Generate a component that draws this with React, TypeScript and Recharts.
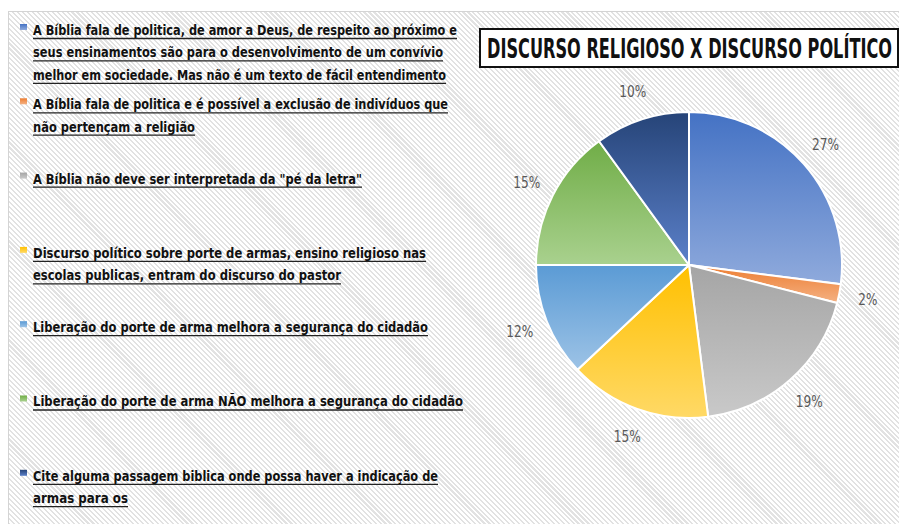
import { PieChart, Pie, Cell, Legend } from 'recharts'

// Survey answers — share of respondents per answer (%)
const ANSWERS = [
  'A Bíblia fala de politica, de amor a Deus, de respeito ao próximo e\nseus ensinamentos são para o desenvolvimento de um convívio\nmelhor em sociedade. Mas não é um texto de fácil entendimento',
  'A Bíblia fala de politica e é possível a exclusão de indivíduos que\nnão pertençam a religião',
  'A Bíblia não deve ser interpretada da "pé da letra"',
  'Discurso político sobre porte de armas, ensino religioso nas\nescolas publicas, entram do discurso do pastor',
  'Liberação do porte de arma melhora a segurança do cidadão',
  'Liberação do porte de arma  NÃO melhora a segurança do cidadão',
  'Cite alguma passagem biblica onde possa haver a indicação de\narmas para os',
]
const SHARES = [27, 2, 19, 15, 12, 15, 10]

const TITLE = 'DISCURSO RELIGIOSO X DISCURSO POLÍTICO'

// top → bottom gradient stops per slice (Office palette)
const GRADIENTS = [
  ['#4472C4', '#8FAADC'],
  ['#ED7D31', '#F4B183'],
  ['#A5A5A5', '#C9C9C9'],
  ['#FFC000', '#FFD966'],
  ['#5B9BD5', '#9DC3E6'],
  ['#70AD47', '#A9D18E'],
  ['#264478', '#5B80C9'],
]

// rendered width of each legend line (px) — the original uses a very narrow face
const LINE_WIDTHS = [
  [424, 410, 413],
  [415, 162],
  [329],
  [393, 308],
  [395],
  [430],
  [405, 95],
]

const data = ANSWERS.map((name, i) => ({ name, value: SHARES[i] }))

const NARROW = '"DejaVu Sans Condensed", "Liberation Sans Narrow", sans-serif'
const RAD = Math.PI / 180
const SQUEEZE = 0.82        // horizontal squeeze for legend text
const TITLE_SQUEEZE = 0.64  // and for the title

function renderLabel(p: any) {
  const r = p.outerRadius + 29
  const x = p.cx + r * Math.cos(-p.midAngle * RAD)
  const y = p.cy + r * Math.sin(-p.midAngle * RAD)
  return (
    <text x={x} y={y} textAnchor="middle" dominantBaseline="central"
      fontFamily={NARROW} fontSize={16} fill="#595959"
      textLength={String(p.value).length * 8 + 11} lengthAdjust="spacingAndGlyphs">
      {`${p.value}%`}
    </text>
  )
}

function renderLegend() {
  return (
    <svg width={470} height={524} style={{ display: 'block', overflow: 'visible' }}>
      {ANSWERS.map((answer, i) => {
        const top = 30 + i * 74.3
        const lines = answer.split('\n')
        return (
          <g key={i}>
            <rect x={20} y={top - 6} width={7} height={6} fill={`url(#grad${i})`} />
            {lines.map((ln, j) => {
              const y = top + j * 22.4
              const w = LINE_WIDTHS[i][j]
              return (
                <g key={j}>
                  <g transform={`translate(33 ${y}) scale(${SQUEEZE} 1)`}>
                    <text x={0} y={0} dominantBaseline="central"
                      fontFamily={NARROW} fontWeight="bold" fontSize={14} fill="#111"
                      textLength={w / SQUEEZE} lengthAdjust="spacingAndGlyphs">
                      {ln}
                    </text>
                  </g>
                  <line x1={33} x2={33 + w} y1={y + 8.5} y2={y + 8.5} stroke="#222" strokeWidth={1.3} />
                </g>
              )
            })}
          </g>
        )
      })}
    </svg>
  )
}

export default function App() {
  return (
    <div style={{ position: 'absolute', left: 0, top: 0, width: 899, height: 524, background: '#fff', overflow: 'hidden' }}>
      <div style={{
        position: 'absolute', left: 8, top: 11, width: 900, height: 520,
        borderLeft: '1px solid #d4d4d4', borderTop: '1px solid #d4d4d4',
        background: 'repeating-linear-gradient(45deg, #ffffff 0px, #ffffff 2px, #e2e2e2 2px, #e2e2e2 3.5px)',
      }} />
      <div style={{
        position: 'absolute', left: 479, top: 28, width: 420, height: 40, boxSizing: 'border-box',
        border: '2px solid #111', background: '#fff',
      }} />
      <svg style={{ position: 'absolute', left: 0, top: 0 }} width={899} height={524}>
        <g transform={`translate(487 48) scale(${TITLE_SQUEEZE} 1)`}>
          <text x={0} y={0} dominantBaseline="central" fontFamily={NARROW} fontWeight="bold"
            fontSize={27} fill="#111" textLength={405 / TITLE_SQUEEZE} lengthAdjust="spacingAndGlyphs">{TITLE}</text>
        </g>
      </svg>
      <div style={{ position: 'absolute', left: 0, top: 0 }}>
        <PieChart width={899} height={524} margin={{ top: 0, right: 0, bottom: 0, left: 0 }}>
          <defs>
            {GRADIENTS.map(([a, b], i) => (
              <linearGradient key={i} id={`grad${i}`} x1="0" y1="0" x2="0" y2="1">
                <stop offset="0%" stopColor={a} />
                <stop offset="100%" stopColor={b} />
              </linearGradient>
            ))}
          </defs>
          <Pie data={data} dataKey="value" nameKey="name" cx={689} cy={265} outerRadius={153}
            startAngle={90} endAngle={-270} stroke="#fff" strokeWidth={2}
            label={renderLabel} labelLine={false} isAnimationActive={false}>
            {data.map((_, i) => <Cell key={i} fill={`url(#grad${i})`} />)}
          </Pie>
          <Legend layout="vertical" align="center" verticalAlign="middle" content={renderLegend}
            wrapperStyle={{ left: 0, top: 0, width: 470, height: 524 }} />
        </PieChart>
      </div>
    </div>
  )
}
